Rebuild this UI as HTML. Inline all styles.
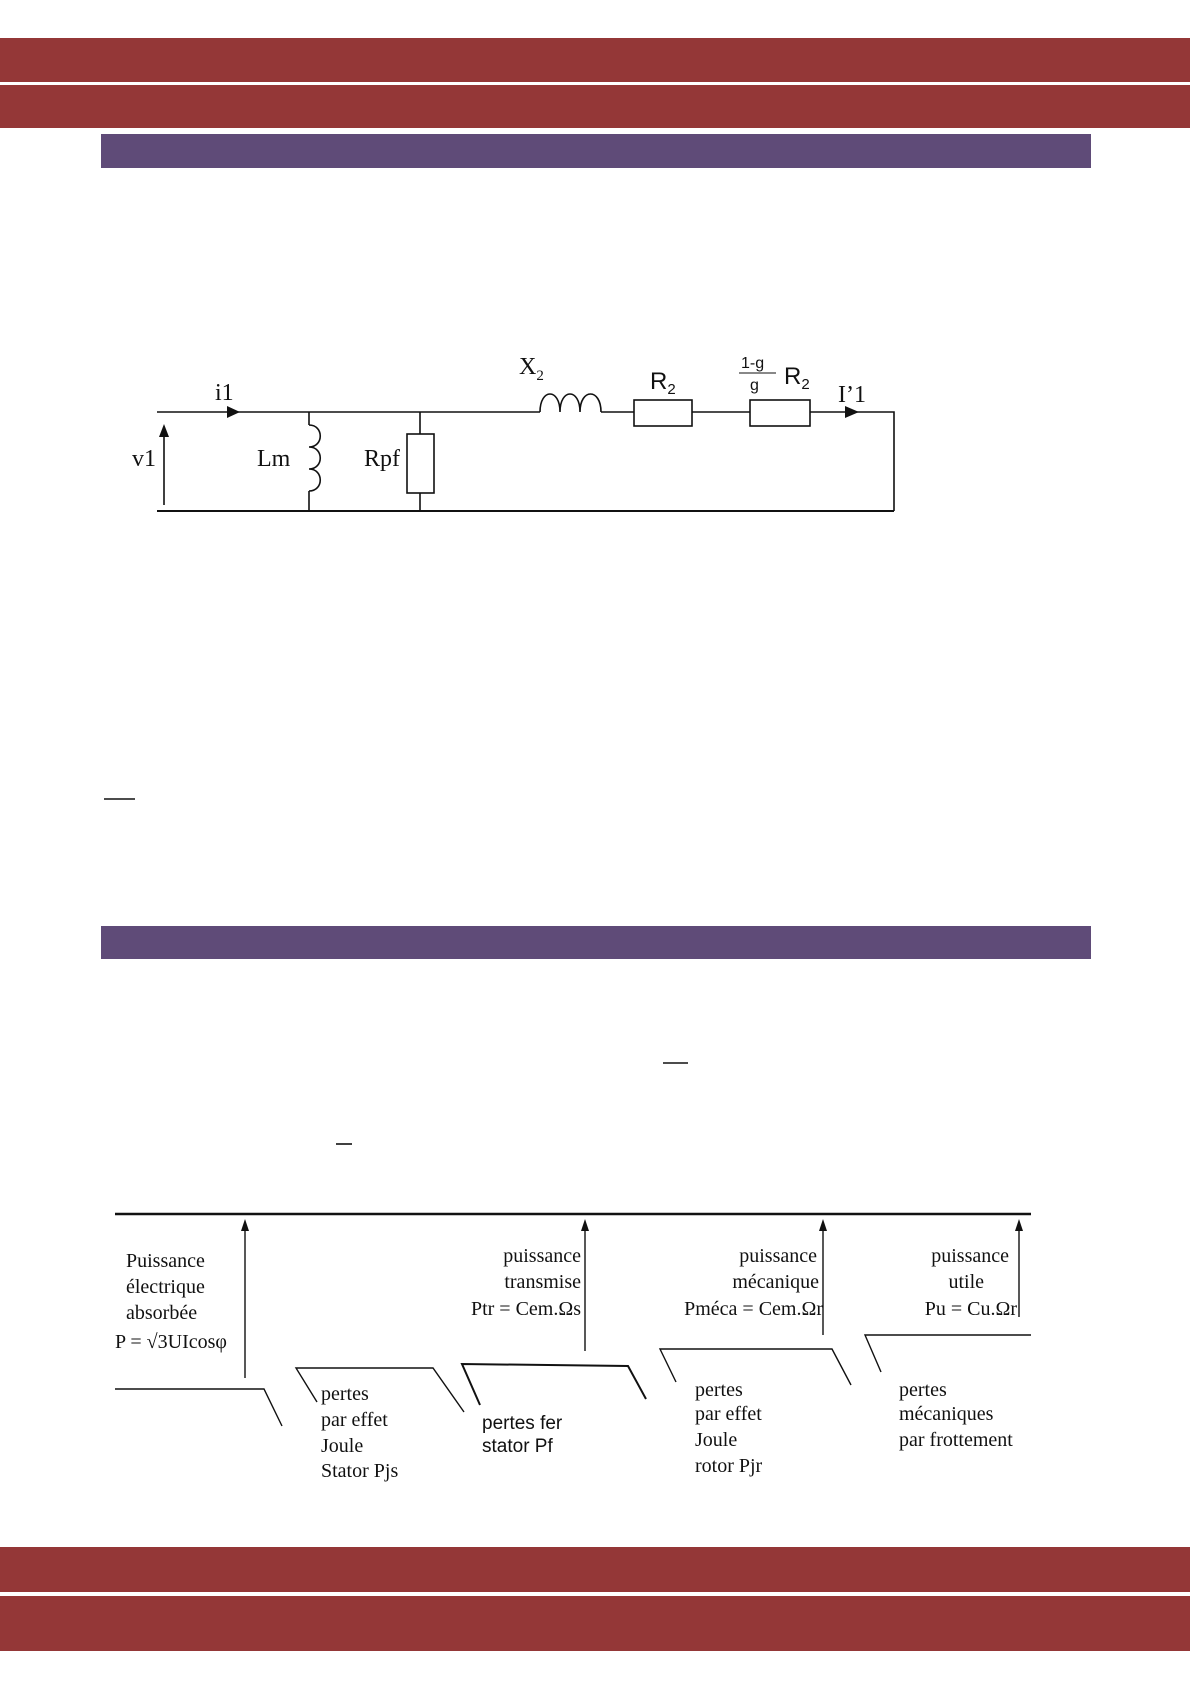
<!DOCTYPE html>
<html><head><meta charset="utf-8"><style>
html,body{margin:0;padding:0;background:#fff}
svg{display:block}
text{font-family:"Liberation Serif",serif;fill:#111}
.s{font-family:"Liberation Sans",sans-serif}
</style></head><body>
<svg width="1190" height="1684" viewBox="0 0 1190 1684" xmlns="http://www.w3.org/2000/svg">
<rect x="0" y="38" width="1190" height="44" fill="#943737"/>
<rect x="0" y="85" width="1190" height="43" fill="#943737"/>
<rect x="101" y="134" width="990" height="34" fill="#5f4b78"/>
<rect x="101" y="926" width="990" height="33" fill="#5f4b78"/>
<rect x="0" y="1547" width="1190" height="45" fill="#943737"/>
<rect x="0" y="1596" width="1190" height="55" fill="#943737"/>

<g stroke="#111" stroke-width="1.6" fill="none">
<line x1="104" y1="799" x2="135" y2="799"/>
<line x1="663" y1="1063" x2="688" y2="1063"/>
<line x1="336" y1="1144" x2="352" y2="1144"/>
</g>

<!-- circuit -->
<g stroke="#111" stroke-width="1.6" fill="none">
<path d="M157 412 H540"/>
<path d="M540 412 C540 388 560 388 560 412 C560 388 580 388 580 412 C580 388 601 388 601 412"/>
<path d="M601 412 H634 M692 412 H750 M810 412 H894 V511"/>
<rect x="634" y="400" width="58" height="26"/>
<rect x="750" y="400" width="60" height="26"/>
<path d="M157 511 H894" stroke-width="2"/>
<path d="M309 412 V425 M309 491 V511"/>
<path d="M309 425 C324 425 324 447 309 447 C324 447 324 469 309 469 C324 469 324 491 309 491"/>
<path d="M420 412 V434 M420 493 V511"/>
<rect x="407" y="434" width="27" height="59"/>
<path d="M164 505 V432"/>
<line x1="739" y1="373" x2="776" y2="373" stroke-width="1"/>
</g>
<g fill="#111">
<polygon points="164,424 159,437 169,437"/>
<polygon points="240,412 227,406 227,418"/>
<polygon points="859,412 845,406 845,418"/>
</g>
<text x="215" y="400" font-size="24">i1</text>
<text x="132" y="466" font-size="24">v1</text>
<text x="257" y="466" font-size="24">Lm</text>
<text x="364" y="466" font-size="24">Rpf</text>
<text x="519" y="374" font-size="24">X<tspan font-size="15" dy="6">2</tspan></text>
<text class="s" x="650" y="389" font-size="24">R<tspan font-size="15" dy="5">2</tspan></text>
<text class="s" x="741" y="368" font-size="16">1-g</text>
<text class="s" x="750" y="390" font-size="16">g</text>
<text class="s" x="784" y="384" font-size="24">R<tspan font-size="15" dy="5">2</tspan></text>
<text x="838" y="402" font-size="24">I’1</text>

<!-- power flow -->
<g stroke="#111" fill="none" stroke-width="1.4">
<path d="M115 1214 H1031" stroke-width="2.4"/>
<path d="M245 1378 V1228 M585 1351 V1228 M823 1335 V1228 M1019 1317 V1228"/>
<path d="M115 1389 H264 L282 1426"/>
<path d="M317 1402 L296 1368 H433 L464 1412"/>
<path d="M480 1405 L462 1364 L628 1366 L646 1399" stroke-width="2"/>
<path d="M676 1382 L660 1349 H832 L851 1385"/>
<path d="M881 1372 L865 1335 H1031"/>
</g>
<g fill="#111">
<polygon points="245,1219 241,1231 249,1231"/>
<polygon points="585,1219 581,1231 589,1231"/>
<polygon points="823,1219 819,1231 827,1231"/>
<polygon points="1019,1219 1015,1231 1023,1231"/>
</g>
<g font-size="20">
<text x="126" y="1267">Puissance</text>
<text x="126" y="1293">électrique</text>
<text x="126" y="1319">absorbée</text>
<text x="115" y="1348">P = √3UIcosφ</text>
<g text-anchor="end">
<text x="581" y="1262">puissance</text>
<text x="581" y="1288">transmise</text>
<text x="581" y="1315">Ptr = Cem.Ωs</text>
<text x="817" y="1262">puissance</text>
<text x="819" y="1288">mécanique</text>
<text x="823" y="1315">Pméca = Cem.Ωr</text>
<text x="1009" y="1262">puissance</text>
<text x="984" y="1288">utile</text>
<text x="1017" y="1315">Pu = Cu.Ωr</text>
</g>
<text x="321" y="1400">pertes</text>
<text x="321" y="1426">par effet</text>
<text x="321" y="1452">Joule</text>
<text x="321" y="1477">Stator  Pjs</text>
<text class="s" x="482" y="1429" font-size="19">pertes fer</text>
<text class="s" x="482" y="1452" font-size="19">stator  Pf</text>
<text x="695" y="1396">pertes</text>
<text x="695" y="1420">par effet</text>
<text x="695" y="1446">Joule</text>
<text x="695" y="1472">rotor  Pjr</text>
<text x="899" y="1396">pertes</text>
<text x="899" y="1420">mécaniques</text>
<text x="899" y="1446">par frottement</text>
</g>
</svg>
</body></html>
